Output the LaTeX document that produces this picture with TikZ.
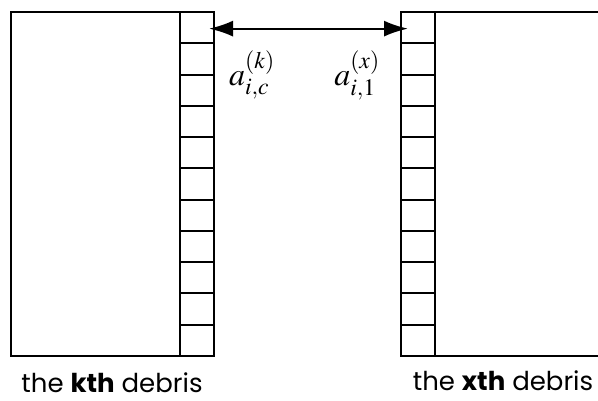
\documentclass[tikz,border=0pt]{standalone}
\usepackage{mathptmx}
\usepackage{fontspec}
\setmainfont{Poppins}
\usetikzlibrary{arrows.meta, positioning}

\begin{document}
\begin{tikzpicture}[x=1pt, y=-1pt,
    bigblock/.style={rectangle, draw, line width=2pt, minimum width=169pt, minimum height=344pt, inner sep=0pt, outer sep=0pt},
    cell/.style={rectangle, draw, line width=2pt, minimum width=34pt, minimum height=31.27pt, inner sep=0pt, outer sep=0pt},
    line/.style={draw, {Latex[length=24pt,width=16pt]}-{Latex[length=24pt,width=16pt]}, line width=2pt},
    caption/.style={font=\fontsize{26}{26}\selectfont, anchor=base, inner sep=0pt},
    lab/.style={font=\fontsize{32}{32}\selectfont}]
    \clip (0,0) rectangle (598,401);
    % kth debris
    \node [bigblock, anchor=north west] (kbox) at (11,12) {};
    \node [cell, anchor=north west] (k1) at (kbox.north east) {};
    \foreach \i [count=\j from 1] in {2,...,11}
        \node [cell, below=0pt of k\j] (k\i) {};
    % xth debris
    \node [cell, anchor=north west] (x1) at (401,12) {};
    \foreach \i [count=\j from 1] in {2,...,11}
        \node [cell, below=0pt of x\j] (x\i) {};
    \node [bigblock, anchor=north west, minimum width=200pt] (xbox) at (x1.north east) {};
    % labels
    \node [lab] (kval) at (252,75) {$a_{i,c}^{(k)}$};
    \node [lab] (xval) at (357,75) {$a_{i,1}^{(x)}$};
    \node [caption] (kcap) at (112,392) {the \textbf{kth} debris};
    \node [caption] (xcap) at (503,390) {the \textbf{xth} debris};
    \path [line] ([xshift=-5pt,yshift=-1pt]k1.east) -- ([xshift=7pt,yshift=-1pt]x1.west);
\end{tikzpicture}
\end{document}
